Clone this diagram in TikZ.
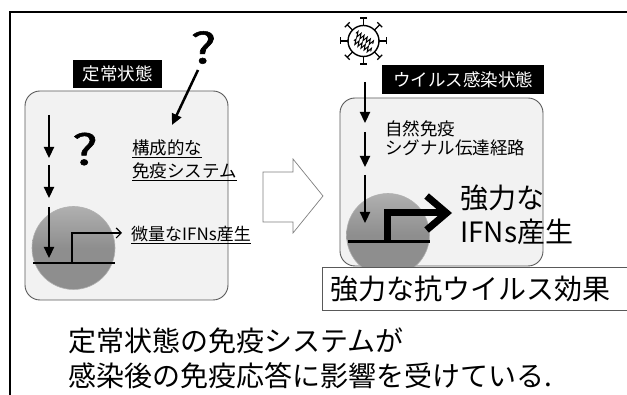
\documentclass[tikz,border=0pt]{standalone}
\usepackage{fontspec}
\setmainfont{Noto Sans CJK JP}
\newfontfamily\queryfont[FakeBold=1.2]{Noto Sans CJK JP}
\usetikzlibrary{arrows.meta,calc,decorations.pathmorphing}
\definecolor{panelfill}{HTML}{F2F2F2}
\definecolor{panelline}{HTML}{595959}
\definecolor{cellgray}{HTML}{8E8E8E}
\definecolor{celltop}{HTML}{B0B0B0}
\definecolor{outline}{HTML}{7F7F7F}
\begin{document}
\begin{tikzpicture}[x=1pt,y=-1pt,
  panel/.style={draw=panelline,line width=0.9pt,fill=panelfill,rounded corners=15pt,inner sep=0pt},
  tag/.style={fill=black,text=white,font=\fontsize{17.5}{20}\selectfont,inner sep=0pt,minimum height=28pt},
  txt/.style={font=\fontsize{#1}{#1}\selectfont,inner sep=0pt,anchor=base west},
  flow/.style={line width=2.3pt,-{Triangle[length=11pt,width=10pt]}},
  nucleus/.style={circle,minimum size=83pt,inner sep=0pt,top color=celltop,bottom color=cellgray,middle color=cellgray,draw=celltop,line width=0.6pt},
  dnaline/.style={line width=2.6pt},
  query/.style={font=\fontsize{42}{42}\queryfont,inner sep=0pt,xscale=1.3},
]
\useasboundingbox (0,0) rectangle (627,395);

% outer frame (top and left edges)
\draw[line width=2pt] (10,395) -- (10,12) -- (627,12);

% ---- steady state panel ----
\node[panel,minimum width=203pt,minimum height=209pt] (steady) at (126.5,195.5) {};
\node[tag,minimum width=89pt] (steadytag) at (117.5,74) {定常状態};

\node[query] (q1) at (203.5,47.5) {?};
\node[query] (q2) at (85,149) {?};
\coordinate (q1s) at (198,70);
\coordinate (q1e) at (172,125);
\draw[line width=2.5pt,-{Triangle[length=11pt,width=10pt]}] (q1s) -- (q1e);

\node[txt=17.5] (const1) at (132,154.5) {\underline{構成的な}};
\node[txt=17.5] (const2) at (132,177.5) {\underline{免疫システム}};

\coordinate (l1a) at (49,115); \coordinate (l1b) at (49,158);
\coordinate (l2a) at (49,165); \coordinate (l2b) at (49,198);
\coordinate (l3a) at (49,207); \coordinate (l3b) at (49,258);

\node[nucleus] (nucL) at (73.5,248) {};
\draw[flow] (l1a) -- (l1b);
\draw[flow] (l2a) -- (l2b);
\draw[flow] (l3a) -- (l3b);
\coordinate (dnaLa) at (33,263); \coordinate (dnaLb) at (115,263);
\draw[dnaline] (dnaLa) -- (dnaLb);
\coordinate (tssL) at (72,263); \coordinate (outL) at (122,233);
\draw[line width=1.2pt,-{Straight Barb[length=5pt,width=10pt]}] (tssL) |- (outL);
\node[txt=17] (weak) at (131,240.5) {\underline{微量なIFNs産生}};

% ---- transition arrow ----
\draw[draw=outline,fill=white,line width=0.7pt]
  (263,172) -- (293,172) -- (293,159) -- (323,196) -- (293,233) -- (293,222) -- (263,222) -- cycle;

% ---- infected state panel ----
\node[panel,minimum width=203pt,minimum height=168pt] (infected) at (441.5,182) {};
\node[tag,minimum width=162pt,minimum height=29pt] (infectedtag) at (463,79.5) {ウイルス感染状態};

% virus particle
\node[circle,draw,line width=1.4pt,minimum size=31pt,inner sep=0pt,fill=white] (virus) at (363.5,41) {};
\foreach \a in {0,45,...,315} {
  \draw[line width=1.3pt] ($(virus.center)+(\a:15.5)$) -- ($(virus.center)+(\a:23)$);
  \draw[line width=1.3pt] ($(virus.center)+(\a:23)+(\a+90:3.5)$) -- ($(virus.center)+(\a:23)+(\a-90:3.5)$);
}
\draw[line width=1pt,decorate,decoration={zigzag,segment length=3.6pt,amplitude=2.6pt}]
  ($(virus.center)+(-7.6,-7.7)$) -- ($(virus.center)+(9.6,2.7)$);
\draw[line width=1pt,decorate,decoration={zigzag,segment length=3.6pt,amplitude=2.6pt}]
  ($(virus.center)+(-9.6,-0.2)$) -- ($(virus.center)+(7.6,10.2)$);

\node[txt=17.5] (innate1) at (385,135.5) {自然免疫};
\node[txt=17.5] (innate2) at (385,154.5) {シグナル伝達経路};

\coordinate (r1a) at (365,82);  \coordinate (r1b) at (365,123);
\coordinate (r2a) at (365,132); \coordinate (r2b) at (365,167);
\coordinate (r3a) at (365,175); \coordinate (r3b) at (365,223);

\node[nucleus] (nucR) at (388,235) {};
\draw[flow] (r1a) -- (r1b);
\draw[flow] (r2a) -- (r2b);
\draw[flow] (r3a) -- (r3b);
\coordinate (dnaRa) at (348,242); \coordinate (dnaRb) at (430,242);
\draw[line width=3pt] (dnaRa) -- (dnaRb);
\coordinate (tssR) at (387,242); \coordinate (outR) at (452,213);
\draw[line width=7pt,-{Straight Barb[length=20pt,width=34pt]}] (tssR) |- (outR);

\node[txt=28] (strong1) at (460,209) {強力な};
\node[txt=28] (strong2) at (460,243) {IFNs産生};

\node[draw=panelline,fill=white,line width=0.7pt,anchor=north west,minimum width=305pt,minimum height=43pt,inner sep=0pt] (effect) at (322,267) {};
\node[txt=28] (effecttxt) at (330,300) {強力な抗ウイルス効果};

% ---- conclusion ----
\node[txt=28] (concl1) at (68,352) {定常状態の免疫システムが};
\node[txt=28] (concl2) at (68,387) {感染後の免疫応答に影響を受けている.};
\end{tikzpicture}
\end{document}
